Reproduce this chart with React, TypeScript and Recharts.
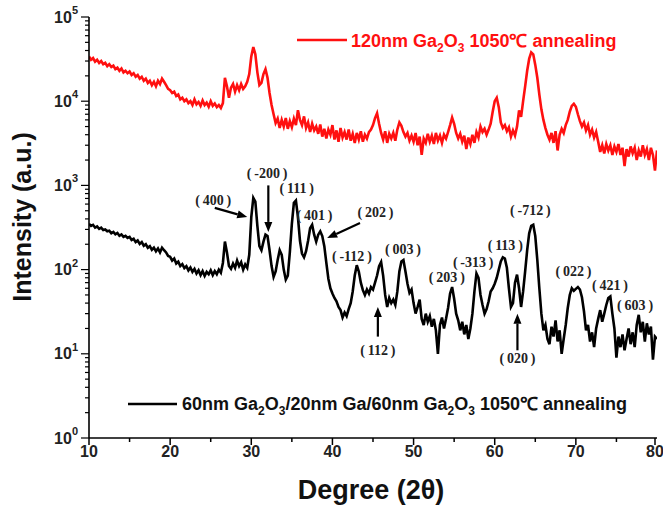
import React from "react";
import { LineChart, Line, XAxis, YAxis, ReferenceLine, ReferenceDot } from "recharts";

// scan grid: 10° to 80° in 0.25° steps
const START_DEG = 10;
const STEP_DEG = 0.25;

// 120nm Ga2O3, 1050℃ annealing (counts)
const redCounts = [
  34000, 31000, 32500, 29500, 31000, 28500, 30000, 27500, 28500, 26000, 27500, 25500, 26500, 24000, 25000, 23000, 24500, 22000, 23000, 21500,
  22500, 20500, 21500, 19500, 20500, 18500, 19500, 17500, 18500, 16500, 17500, 15500, 17000, 15000, 17500, 16000, 18500, 17000, 15500, 14000,
  13500, 12500, 13000, 11500, 12000, 10500, 11000, 10000, 10500, 9500, 10000, 9000, 10500, 9200, 9800, 8800, 10200, 9000, 9600, 8600,
  10000, 8800, 9400, 8500, 9000, 8300, 9500, 19000, 15000, 11000, 14500, 16000, 13000, 15500, 13500, 16000, 14000, 15000, 17000, 21000,
  34000, 44000, 36000, 22000, 15500, 16500, 21000, 24000, 19000, 12500, 9000, 7000, 5500, 6200, 4800, 6000, 5000, 6300, 4700, 5800,
  4900, 6200, 5200, 7800, 6000, 5200, 6600, 4800, 5600, 4300, 5400, 4500, 5000, 4100, 5300, 3800, 4700, 3600, 4600, 4000,
  5200, 3500, 4500, 3300, 4800, 3700, 4300, 3500, 4600, 3400, 4100, 3200, 4200, 3500, 4400, 3300, 4000, 3600, 4300, 4600,
  5200, 6300, 7200, 5400, 4200, 3500, 4400, 3200, 4100, 3600, 4200, 3400, 4600, 5600, 5100, 4300, 3800, 4200, 3400, 3900,
  3300, 4200, 3000, 3800, 2300, 3600, 3200, 4100, 3300, 3900, 3100, 4200, 3400, 3900, 3200, 4000, 3600, 4300, 5200, 6400,
  5400, 4200, 3600, 4100, 3300, 3900, 2700, 3700, 3100, 4000, 3200, 4300, 3700, 5000, 4300, 4700, 4000, 4600, 5400, 7500,
  10000, 11000, 8500, 5600, 4800, 5200, 4400, 4900, 3800, 4500, 3900, 5000, 7800, 6500, 10000, 15000, 23000, 32000, 38000, 36000,
  27000, 19000, 12000, 8000, 6000, 4800, 4000, 3500, 4200, 3200, 4400, 2600, 4000, 4700, 4200, 5200, 6000, 7500, 8800, 9300,
  8600, 7000, 5800, 5000, 5600, 4500, 5200, 4000, 4600, 3700, 4300, 3300, 2500, 3000, 2400, 3100, 2600, 3000, 2300, 2900,
  2500, 3100, 2300, 2800, 1700, 2700, 2200, 2900, 2400, 2800, 2000, 2600, 2200, 3000, 2300, 2700, 2000, 2800, 2300, 1500,
  2600,
];

// 60nm Ga2O3 / 20nm Ga / 60nm Ga2O3, 1050℃ annealing (counts)
const blackCounts = [
  350, 330, 340, 315, 325, 305, 315, 295, 300, 285, 290, 270, 280, 262, 272, 252, 262, 245, 252, 238,
  245, 225, 232, 212, 222, 202, 212, 192, 200, 182, 190, 172, 182, 165, 178, 160, 182, 170, 160, 145,
  142, 128, 135, 118, 124, 110, 116, 104, 110, 98, 106, 94, 102, 90, 98, 86, 96, 84, 94, 88,
  98, 86, 96, 88, 100, 92, 120, 215, 160, 110, 102, 118, 105, 128, 110, 122, 100, 115, 105, 150,
  420, 710, 640, 330, 190, 170, 215, 260, 250, 170, 110, 82, 95, 130, 170, 150, 100, 76, 85, 160,
  350, 620, 660, 420, 220, 155, 140, 165, 220, 310, 340, 260, 215, 260, 285, 250, 190, 120, 78, 60,
  52, 46, 42, 36, 33, 27, 31, 28, 34, 40, 55, 85, 113, 95, 70, 57, 50, 58, 52, 62,
  58, 70, 85, 110, 123, 85, 50, 36, 46, 40, 44, 38, 55, 95, 125, 130, 95, 68, 53, 58,
  40, 30, 36, 44, 26, 22, 30, 24, 28, 21, 26, 19, 10, 22, 27, 20, 26, 35, 52, 62,
  45, 30, 25, 19, 24, 17, 22, 15, 20, 30, 55, 90, 80, 50, 38, 30, 34, 42, 55, 60,
  68, 80, 100, 125, 140, 135, 105, 60, 36, 40, 70, 87, 60, 36, 55, 95, 170, 270, 330, 340,
  250, 130, 60, 30, 19, 22, 15, 13, 21, 16, 25, 14, 19, 10, 15, 22, 35, 50, 60, 56,
  59, 62, 58, 47, 32, 19, 22, 14, 18, 12, 20, 26, 33, 24, 30, 38, 46, 48, 30, 20,
  9, 16, 12, 17, 11, 15, 20, 13, 18, 12, 22, 29, 18, 24, 14, 23, 17, 21, 8.5, 16,
  15,
];

const xTicks = [10, 15, 20, 25, 30, 35, 40, 45, 50, 55, 60, 65, 70, 75, 80];
const decades = [1, 10, 100, 1000, 10000, 100000];
const minorSteps = [2, 3, 4, 5, 6, 7, 8, 9];

// reflection labels: [hkl, 2θ, intensity at label centre]
const hklTags: [string, number, number][] = [
  ["400", 25.3, 670],
  ["-200", 31.95, 1400],
  ["111", 35.6, 910],
  ["401", 37.8, 435],
  ["202", 45.3, 480],
  ["-112", 42.4, 145],
  ["003", 48.7, 175],
  ["112", 45.6, 10.8],
  ["203", 54.1, 80],
  ["-313", 57.35, 120],
  ["113", 61.3, 195],
  ["-712", 64.4, 510],
  ["020", 62.8, 8.9],
  ["022", 69.7, 94],
  ["421", 74.2, 64],
  ["603", 77.3, 37],
];

// arrows: [from 2θ, from intensity, to 2θ, to intensity]
const hklArrows: [number, number, number, number][] = [
  [25.5, 540, 29.5, 420],
  [32.1, 1000, 32.1, 280],
  [43.4, 357, 39.35, 237],
  [45.6, 16, 45.6, 36],
  [62.8, 11, 62.8, 30],
];

const data = redCounts.map((v, i) => ({
  deg: START_DEG + i * STEP_DEG,
  red: v,
  black: blackCounts[i],
}));

const yTicks = decades.flatMap((d) => (d < 100000 ? [d, ...minorSteps.map((m) => m * d)] : [d]));

const SANS = "'Liberation Sans', Arial, sans-serif";
const SERIF = "'Liberation Serif', 'Times New Roman', serif";
const RED = "#ff1010";

function XTick({ x, y, payload }: any) {
  const major = payload.value % 10 === 0;
  return (
    <g>
      <line x1={x} x2={x} y1={y} y2={y + (major ? 7 : 4)} stroke="#000" strokeWidth={1.5} />
      {major && (
        <text x={x} y={y + 13} textAnchor="middle" dominantBaseline="central" fontFamily={SANS} fontWeight="bold" fontSize={16} fill="#222">
          {payload.value}
        </text>
      )}
    </g>
  );
}

function YTick({ x, y, payload }: any) {
  const v = payload.value;
  const exp = Math.round(Math.log10(v));
  const major = Math.abs(Math.pow(10, exp) - v) < 1e-6;
  return (
    <g>
      <line x1={x - (major ? 8 : 4)} x2={x} y1={y} y2={y} stroke="#000" strokeWidth={1.2} />
      {major && (
        <text x={x - 11} y={y} textAnchor="end" dominantBaseline="central" fontFamily={SANS} fontWeight="bold" fontSize={16} fill="#222">
          10
          <tspan fontSize={11} dy={-7}>{exp}</tspan>
        </text>
      )}
    </g>
  );
}

function Arrow(props: any) {
  const { x1, y1, x2, y2 } = props;
  const a = Math.atan2(y2 - y1, x2 - x1);
  const len = 10;
  const w = 4;
  const bx = x2 - len * Math.cos(a);
  const by = y2 - len * Math.sin(a);
  const px = -Math.sin(a) * w;
  const py = Math.cos(a) * w;
  return (
    <g>
      <line x1={x1} y1={y1} x2={bx} y2={by} stroke="#000" strokeWidth={2.2} />
      <polygon points={`${x2},${y2} ${bx + px},${by + py} ${bx - px},${by - py}`} fill="#000" />
    </g>
  );
}

function HklText({ cx, cy, text }: any) {
  return (
    <text x={cx} y={cy} textAnchor="middle" dominantBaseline="central" fontFamily={SERIF} fontWeight="bold" fontSize={14} fill="#222">
      {`(\u2009${text}\u2009)`}
    </text>
  );
}

export default function App() {
  return (
    <div style={{ position: "relative", width: 663, height: 506, background: "#fff" }}>
      <style>{"body{margin:0;background:#fff}"}</style>
      <LineChart width={663} height={506} data={data} margin={{ top: 17, right: 6, bottom: 0, left: 0 }}>
        <XAxis
          dataKey="deg"
          type="number"
          domain={[10, 80]}
          ticks={xTicks}
          tick={<XTick />}
          tickLine={false}
          tickSize={0}
          tickMargin={0}
          height={68}
          axisLine={{ stroke: "#000", strokeWidth: 1.6 }}
          allowDataOverflow
        />
        <XAxis xAxisId="top" orientation="top" type="number" domain={[10, 80]} height={0} tick={false} tickLine={false} axisLine={{ stroke: "#000", strokeWidth: 1.6 }} />
        <YAxis
          scale="log"
          type="number"
          domain={[1, 100000]}
          ticks={yTicks}
          tick={<YTick />}
          tickLine={false}
          tickSize={0}
          tickMargin={0}
          width={89}
          interval={0}
          axisLine={{ stroke: "#000", strokeWidth: 1.6 }}
          allowDataOverflow
        />
        <YAxis yAxisId="right" orientation="right" scale="log" type="number" domain={[1, 100000]} width={0} tick={false} tickLine={false} axisLine={{ stroke: "#000", strokeWidth: 1.6 }} />
        <Line dataKey="red" stroke={RED} strokeWidth={2.6} dot={false} isAnimationActive={false} />
        <Line dataKey="black" stroke="#000" strokeWidth={2.6} dot={false} isAnimationActive={false} />
        {hklArrows.map(([fx, fy, tx, ty], i) => (
          <ReferenceLine key={"a" + i} segment={[{ x: fx, y: fy }, { x: tx, y: ty }]} shape={<Arrow />} />
        ))}
        {hklTags.map(([t, d, v]) => (
          <ReferenceDot key={t} x={d} y={v} r={0} shape={(p: any) => <HklText cx={p.cx} cy={p.cy} text={t} />} />
        ))}
      </LineChart>
      <svg width={663} height={506} style={{ position: "absolute", left: 0, top: 0, pointerEvents: "none" }}>
        <line x1={297} x2={347} y1={40} y2={40} stroke={RED} strokeWidth={2.5} />
        <text x={351} y={47} fontFamily={SANS} fontWeight="bold" fontSize={18} fill={RED}>
          120nm Ga<tspan fontSize={12} dy={5}>2</tspan>
          <tspan dy={-5}>O</tspan>
          <tspan fontSize={12} dy={5}>3</tspan>
          <tspan dy={-5}> 1050℃ annealing</tspan>
        </text>
        <line x1={128} x2={177} y1={404} y2={404} stroke="#000" strokeWidth={2.5} />
        <text x={182} y={410} fontFamily={SANS} fontWeight="bold" fontSize={18} fill="#111">
          60nm Ga<tspan fontSize={12} dy={5}>2</tspan>
          <tspan dy={-5}>O</tspan>
          <tspan fontSize={12} dy={5}>3</tspan>
          <tspan dy={-5}>/20nm Ga/60nm Ga</tspan>
          <tspan fontSize={12} dy={5}>2</tspan>
          <tspan dy={-5}>O</tspan>
          <tspan fontSize={12} dy={5}>3</tspan>
          <tspan dy={-5}> 1050℃ annealing</tspan>
        </text>
        <text transform="translate(31,217) rotate(-90)" textAnchor="middle" fontFamily={SANS} fontWeight="bold" fontSize={25} fill="#111">
          Intensity (a.u.)
        </text>
        <text x={371} y={499} textAnchor="middle" fontFamily={SANS} fontWeight="bold" fontSize={27} fill="#111">
          Degree (2θ)
        </text>
      </svg>
    </div>
  );
}
